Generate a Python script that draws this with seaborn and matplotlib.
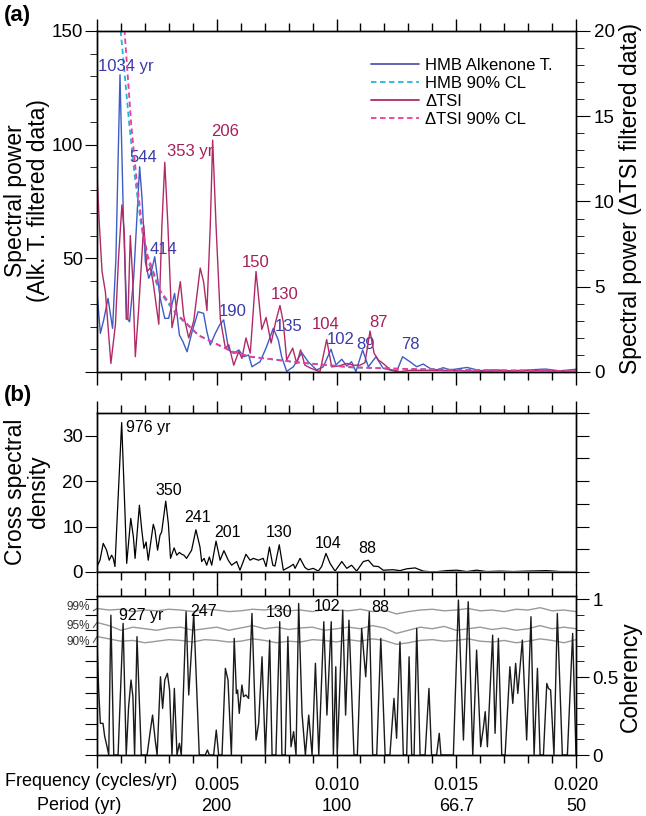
import matplotlib
matplotlib.use("Agg")
import matplotlib.pyplot as plt
import seaborn as sns
from matplotlib.ticker import MultipleLocator, FixedLocator, FixedFormatter
from matplotlib.lines import Line2D

# ---------------- data ----------------
# Panel (a): HMB alkenone temperature spectrum (left axis units)
hmb_f = [0, 0.00014, 0.00028, 0.00046, 0.00065, 0.00079, 0.00096, 0.00111, 0.00125, 0.00136,
         0.00153, 0.00178, 0.00188, 0.00202, 0.00216, 0.00227, 0.00241, 0.00253, 0.00264, 0.00283,
         0.00299, 0.00324, 0.00344, 0.00359, 0.00376, 0.00397, 0.00422, 0.00445, 0.00459, 0.00473,
         0.00494, 0.00512, 0.00529, 0.0055, 0.00571, 0.00592, 0.00613, 0.00633, 0.00647, 0.00665,
         0.00681, 0.00708, 0.00736, 0.00757, 0.00771, 0.00792, 0.0082, 0.00855, 0.00882, 0.00917,
         0.00945, 0.00977, 0.00998, 0.01022, 0.01043, 0.01063, 0.01081, 0.01109, 0.01133, 0.01165,
         0.01195, 0.01223, 0.01251, 0.01276, 0.01307, 0.01335, 0.01362, 0.0139, 0.01418, 0.01446,
         0.01474, 0.01545, 0.01599, 0.01662, 0.01724, 0.01787, 0.01871, 0.01933, 0.02]
hmb_p = [35.3, 17.0, 22.9, 32.4, 19.2, 50.0, 130.7, 64.7, 23.6, 22.1,
         41.2, 90.3, 76.4, 48.5, 41.2, 44.1, 50.7, 41.2, 32.4, 23.6,
         23.6, 34.6, 16.3, 13.3, 8.9, 17.7, 26.5, 25.8, 17.7, 11.9,
         17.0, 20.7, 22.9, 9.7, 8.2, 9.7, 6.7, 7.5, 2.3, 3.5,
         4.5, 11.1, 19.2, 14.1, 6.7, 0.3, 2.3, 8.5, 4.5, 0.9,
         2.3, 10.0, 3.1, 5.6, 2.6, 4.5, 0.2, 9.7, 2.3, 6.7,
         1.6, 0.9, 0.2, 6.7, 4.5, 2.3, 3.5, 1.6, 0.9, 1.9,
         0.9, 2.0, 0.6, 1.0, 0.5, 0.8, 1.3, 0.5, 1.2]

# Panel (a): Delta TSI spectrum (right axis units)
tsi_f = [0, 0.0001, 0.00021, 0.00035, 0.00058, 0.00077, 0.0009, 0.00104, 0.00114, 0.00122,
         0.00129, 0.00139, 0.00149, 0.0016, 0.00174, 0.00195, 0.00209, 0.00223, 0.00234, 0.00258,
         0.00271, 0.00283, 0.00296, 0.00313, 0.0033, 0.00348, 0.00362, 0.00383, 0.00404, 0.00431,
         0.00445, 0.00459, 0.00473, 0.00483, 0.00497, 0.00515, 0.00536, 0.0055, 0.00571, 0.00592,
         0.00605, 0.00622, 0.0064, 0.00664, 0.00688, 0.00706, 0.00727, 0.00747, 0.00764, 0.00778,
         0.00792, 0.00817, 0.00834, 0.0085, 0.00868, 0.00896, 0.00931, 0.00959, 0.0098, 0.01008,
         0.01043, 0.0107, 0.01098, 0.01119, 0.0114, 0.01157, 0.01175, 0.01195, 0.01223, 0.01265,
         0.01307, 0.014, 0.016, 0.018, 0.02]
tsi_p = [11.65, 8.6, 5.9, 4.7, 0.5, 2.8, 6.7, 9.8, 8.2, 3.1,
         3.1, 8.0, 5.5, 0.9, 3.7, 8.6, 5.9, 6.1, 5.3, 2.8,
         8.6, 12.3, 8.6, 2.6, 3.7, 5.3, 3.3, 2.0, 3.0, 6.1,
         5.3, 3.6, 8.6, 13.6, 8.6, 3.1, 1.4, 1.6, 0.4, 1.2,
         0.8, 2.0, 1.1, 5.9, 2.5, 3.2, 1.7, 3.0, 3.9, 2.9,
         0.7, 1.4, 0.5, 1.3, 0.4, 0.2, 0.02, 1.9, 0.3, 0.35,
         0.5, 0.4, 0.4, 0.55, 2.4, 1.1, 0.7, 0.5, 0.15, 0.02,
         0.1, 0.1, 0.05, 0.08, 0.05]

# Panel (a): 90% confidence levels
cl_hmb_f = [0.0009, 0.00099, 0.00135, 0.00157, 0.00184, 0.00209, 0.00263, 0.00334, 0.00425,
            0.00564, 0.0064, 0.00848, 0.01065, 0.01265, 0.01474, 0.02]
cl_hmb_p = [162, 150, 108.7, 86.7, 64.7, 50, 35, 25, 16, 9, 6.7, 4.1, 2.0, 1.4, 1.0, 0.3]
cl_tsi_f = [0.00104, 0.00115, 0.00143, 0.00163, 0.00188, 0.00212, 0.00263, 0.00334, 0.00425,
            0.00564, 0.0064, 0.00848, 0.01065, 0.01265, 0.01474, 0.02]
cl_tsi_p = [20.6, 20.0, 14.5, 11.6, 8.6, 6.8, 4.8, 3.4, 2.15, 1.2, 0.9, 0.55, 0.28, 0.19, 0.13, 0.05]

# Panel (b): cross spectral density
csd_f = [0, 0.000125, 0.00026, 0.0004, 0.00051, 0.00061, 0.00068, 0.00075, 0.00085, 0.00103,
         0.00117, 0.00124, 0.00141, 0.00152, 0.00159, 0.00177, 0.00187, 0.00196, 0.00205, 0.00214,
         0.00235, 0.00242, 0.00253, 0.00263, 0.0027, 0.00287, 0.00298, 0.00307, 0.00322, 0.00333,
         0.00344, 0.00354, 0.00363, 0.00374, 0.00395, 0.00413, 0.0043, 0.00437, 0.00447, 0.00458,
         0.00469, 0.00479, 0.00497, 0.00514, 0.0053, 0.00548, 0.00562, 0.00583, 0.00597, 0.00622,
         0.00639, 0.00653, 0.00674, 0.00694, 0.00706, 0.0072, 0.00734, 0.00743, 0.00761, 0.00778,
         0.00792, 0.00806, 0.0082, 0.00827, 0.00848, 0.00868, 0.00882, 0.00903, 0.00924, 0.00938,
         0.00956, 0.00973, 0.00994, 0.01022, 0.01043, 0.01063, 0.01084, 0.01112, 0.01133, 0.01154,
         0.01175, 0.01195, 0.01237, 0.01265, 0.01293, 0.01328, 0.01362, 0.01404, 0.0146, 0.01502,
         0.01544, 0.01585, 0.01627, 0.01683, 0.01738, 0.01794, 0.01878, 0.01933, 0.02]
csd_v = [1.2, 2.6, 6.3, 4.8, 2.6, 3.7, 3.0, 1.2, 12.8, 32.9,
         12.8, 1.9, 11.8, 7.7, 3.0, 14.7, 9.2, 5.2, 6.6, 2.6,
         10.5, 9.2, 4.8, 8.1, 8.8, 15.6, 10.6, 3.0, 5.3, 3.7,
         4.3, 3.9, 3.7, 3.0, 4.8, 9.3, 5.5, 2.3, 3.0, 1.5,
         3.3, 1.5, 6.8, 2.6, 4.7, 2.6, 1.5, 2.3, 0.4, 3.9,
         2.6, 3.0, 2.6, 3.0, 1.2, 5.5, 1.5, 1.3, 6.0, 0.4,
         0.8, 1.2, 1.7, 0.8, 3.0, 1.0, 0.5, 0.8, 0.2, 1.2,
         4.1, 1.9, 0.2, 2.3, 0.8, 1.5, 0.2, 2.3, 2.6, 1.3,
         1.2, 0.4, 0.5, 0.3, 0.7, 0.9, 0.2, 0.0, 0.3, 0.4,
         0.1, 0.4, 0.1, 0.2, 0.1, 0.2, 0.3, 0.1, 0.1]

# Panel (b, lower): coherency
coh_f = [0, 0.00007, 0.00014, 0.00025, 0.00032, 0.00042, 0.00049, 0.00058, 0.0007, 0.00088,
         0.00109, 0.00122, 0.00132, 0.00142, 0.0015, 0.00157, 0.00167, 0.00185, 0.00209, 0.00223,
         0.00232, 0.00243, 0.00251, 0.00265, 0.00274, 0.00283, 0.00294, 0.00303, 0.00313, 0.00323,
         0.00334, 0.00344, 0.00352, 0.00372, 0.00383, 0.00404, 0.00427, 0.00452, 0.00461, 0.00469,
         0.00487, 0.00498, 0.00508, 0.00522, 0.00536, 0.00547, 0.00561, 0.00573, 0.00582, 0.00587,
         0.00594, 0.00605, 0.00612, 0.00622, 0.00633, 0.00647, 0.00664, 0.00675, 0.00689, 0.00703,
         0.00721, 0.00731, 0.00747, 0.00763, 0.00772, 0.00786, 0.00797, 0.0081, 0.00821, 0.00831,
         0.00842, 0.00856, 0.0087, 0.00884, 0.00898, 0.00912, 0.00926, 0.00947, 0.0096, 0.00978,
         0.00987, 0.00997, 0.01003, 0.01026, 0.01038, 0.01052, 0.01073, 0.01087, 0.01105, 0.01122,
         0.01137, 0.01151, 0.01168, 0.01185, 0.01203, 0.01223, 0.0124, 0.01251, 0.01265, 0.01279,
         0.01293, 0.01303, 0.01314, 0.01324, 0.01335, 0.01349, 0.0137, 0.01386, 0.01397, 0.01418,
         0.01429, 0.01436, 0.01488, 0.01509, 0.0153, 0.0155, 0.01569, 0.01585, 0.01602, 0.01613,
         0.01621, 0.0163, 0.01652, 0.01662, 0.01676, 0.0169, 0.01704, 0.01724, 0.01736, 0.01748,
         0.01757, 0.01776, 0.01794, 0.01812, 0.01825, 0.01839, 0.0185, 0.01864, 0.01878, 0.01885,
         0.01894, 0.01908, 0.01922, 0.01943, 0.01964, 0.01986, 0.02]
coh_v = [0.73, 0.417, 0.203, 0.203, 0.12, 0.053, 0, 0.897, 0, 0,
         0.844, 0, 0.31, 0.481, 0.374, 0, 0.759, 0, 0, 0.16,
         0.256, 0.096, 0, 0.502, 0.299, 0.481, 0.524, 0.417, 0, 0.427,
         0, 0.075, 0, 0.919, 0.385, 0.908, 0, 0, 0.032, 0,
         0, 0.16, 0, 0, 0.556, 0.481, 0, 0.748, 0.395, 0.417,
         0.267, 0.449, 0.374, 0.385, 0.363, 0.908, 0.096, 0.203, 0.63, 0,
         0.737, 0, 0, 0.855, 0, 0, 0.759, 0.053, 0.15, 0,
         0.972, 0.267, 0, 0.256, 0, 0.588, 0, 0.855, 0.256, 0.855,
         0, 0.566, 0, 0.929, 0.256, 0.865, 0, 0, 0.812, 0.502,
         0.919, 0, 0, 0.748, 0, 0, 0.363, 0.107, 0.726, 0,
         0, 0.63, 0, 0, 0.812, 0, 0, 0.427, 0, 0,
         0.139, 0, 0, 0.994, 0.096, 0.983, 0, 0.673, 0.053, 0.171,
         0.278, 0.053, 0.769, 0.139, 0.748, 0, 0, 0.566, 0.331, 0.588,
         0.395, 0.737, 0.096, 0.887, 0, 0.556, 0, 0, 0.459, 0.427,
         0.417, 0, 0.908, 0, 0, 0.78, 0]

# Coherency confidence levels
conf_f = [0, 0.0005, 0.001, 0.0015, 0.002, 0.0025, 0.003, 0.0035, 0.004, 0.0045,
          0.005, 0.0055, 0.006, 0.0065, 0.007, 0.0075, 0.008, 0.0085, 0.009, 0.0095,
          0.01, 0.0105, 0.011, 0.0115, 0.012, 0.0125, 0.013, 0.0135, 0.014, 0.0145,
          0.015, 0.0155, 0.016, 0.0165, 0.017, 0.0175, 0.018, 0.0185, 0.019, 0.0195, 0.02]
conf99 = [0.94, 0.93, 0.935, 0.92, 0.93, 0.925, 0.935, 0.93, 0.92, 0.935,
          0.93, 0.92, 0.925, 0.935, 0.93, 0.94, 0.925, 0.93, 0.92, 0.935,
          0.93, 0.925, 0.935, 0.92, 0.93, 0.905, 0.92, 0.93, 0.935, 0.925,
          0.93, 0.94, 0.925, 0.93, 0.92, 0.935, 0.93, 0.945, 0.925, 0.93, 0.92]
conf95 = [0.85, 0.83, 0.80, 0.82, 0.81, 0.80, 0.815, 0.82, 0.80, 0.81,
          0.82, 0.80, 0.815, 0.83, 0.81, 0.82, 0.805, 0.815, 0.82, 0.80,
          0.81, 0.82, 0.81, 0.83, 0.815, 0.78, 0.80, 0.82, 0.81, 0.825,
          0.80, 0.81, 0.82, 0.805, 0.815, 0.80, 0.81, 0.83, 0.81, 0.82, 0.81]
conf90 = [0.76, 0.745, 0.73, 0.735, 0.72, 0.73, 0.74, 0.735, 0.725, 0.74,
          0.735, 0.725, 0.73, 0.745, 0.735, 0.72, 0.73, 0.725, 0.74, 0.735,
          0.725, 0.74, 0.73, 0.745, 0.735, 0.71, 0.72, 0.735, 0.74, 0.73,
          0.735, 0.745, 0.73, 0.725, 0.735, 0.72, 0.73, 0.745, 0.735, 0.72, 0.74]

# tick labels
freq_ticks = [0, 0.005, 0.010, 0.015, 0.020]
freq_labels = ["", "0.005", "0.010", "0.015", "0.020"]
period_labels = ["", "200", "100", "66.7", "50"]

# peak annotations: (label, freq, value)
hmb_peaks = [("1034 yr", 0.00122, 134.3), ("544", 0.00192, 94.3), ("414", 0.00278, 53.7),
             ("190", 0.00568, 26.5), ("135", 0.00802, 19.9), ("102", 0.01017, 14.4),
             ("89", 0.01121, 11.9), ("78", 0.01307, 11.9)]
tsi_peaks = [("353 yr", 0.0039, 96.9), ("206", 0.00534, 106), ("150", 0.00662, 48),
             ("130", 0.00785, 33.9), ("104", 0.00953, 21.1), ("87", 0.01175, 21.7)]
csd_peaks = [("976 yr", 0.00213, 31.8), ("350", 0.00299, 18), ("241", 0.00418, 12.1),
             ("201", 0.00543, 8.8), ("130", 0.00762, 8.8), ("104", 0.00965, 6.35),
             ("88", 0.01129, 5.25)]
coh_peaks = [("927 yr", 0.00185, 0.894), ("247", 0.00447, 0.923), ("130", 0.00762, 0.913),
             ("102", 0.0096, 0.955), ("88", 0.01182, 0.946)]

# ---------------- style ----------------
sns.set_style("ticks")
plt.rcParams['font.family'] = ['Liberation Sans', 'DejaVu Sans']
plt.rcParams.update({'axes.edgecolor': 'black', 'xtick.color': 'black', 'ytick.color': 'black',
                     'text.color': 'black', 'axes.labelcolor': 'black', 'axes.linewidth': 1.0})

BLUE = '#3d5cc4'; BLUE_T = '#3a3aa8'
MAG = '#b02a68'; MAG_T = '#a61f5c'
CYAN = '#22b5df'; PINK = '#ee3a9c'
GRAY = '#999999'

fig = plt.figure(figsize=(6.46, 8.16), dpi=100)
L, W = 97 / 646, 479 / 646
def box(top, bottom):
    return [L, 1 - bottom / 816, W, (bottom - top) / 816]

axA = fig.add_axes(box(31, 372))
axB = fig.add_axes(box(413, 572))
axC = fig.add_axes(box(596, 755))

DASH = (0, (3, 2))
# ---- panel (a)
sns.lineplot(x=hmb_f, y=hmb_p, ax=axA, color=BLUE, lw=1.0, estimator=None, sort=False)
sns.lineplot(x=cl_hmb_f, y=cl_hmb_p, ax=axA, color=CYAN, lw=1.3, ls=DASH, estimator=None, sort=False)
axA2 = axA.twinx()
sns.lineplot(x=tsi_f, y=tsi_p, ax=axA2, color=MAG, lw=1.0, estimator=None, sort=False)
sns.lineplot(x=cl_tsi_f, y=cl_tsi_p, ax=axA2, color=PINK, lw=1.3, ls=DASH, estimator=None, sort=False)
axA.set_ylim(0, 150); axA2.set_ylim(0, 20)

for lab, f, v in hmb_peaks:
    axA.text(f, v, lab, color=BLUE_T, fontsize=12, ha='center', va='center')
for lab, f, v in tsi_peaks:
    axA.text(f, v, lab, color=MAG_T, fontsize=12, ha='center', va='center')

handles = [Line2D([], [], color='#5358b0', lw=1.3),
           Line2D([], [], color=CYAN, lw=1.3, ls=DASH),
           Line2D([], [], color=MAG, lw=1.3),
           Line2D([], [], color=PINK, lw=1.3, ls=DASH)]
axA2.legend(handles, ["HMB Alkenone T.", "HMB 90% CL", "ΔTSI", "ΔTSI 90% CL"],
            loc='upper left', bbox_to_anchor=(0.572, 0.92), frameon=False, fontsize=12,
            borderpad=0, borderaxespad=0, handlelength=2.9, handletextpad=0.35,
            labelspacing=0.17)

# ---- panel (b) cross spectral density
sns.lineplot(x=csd_f, y=csd_v, ax=axB, color='black', lw=0.9, estimator=None, sort=False)
axB.set_ylim(0, 35)
axB.spines['bottom'].set_color('#888888')
axB.spines['bottom'].set_linewidth(1.3)
for lab, f, v in csd_peaks:
    axB.text(f, v, lab, fontsize=11.5, ha='center', va='center')
axB2 = axB.twinx(); axB2.set_ylim(0, 35)

# ---- panel (c) coherency
for c in (conf99, conf95, conf90):
    sns.lineplot(x=conf_f, y=c, ax=axC, color=GRAY, lw=1.0, estimator=None, sort=False)
sns.lineplot(x=coh_f, y=coh_v, ax=axC, color='#1a1a1a', lw=1.0, estimator=None, sort=False)
axC.set_ylim(0, 1.02)
for lab, f, v in coh_peaks:
    axC.text(f, v, lab, fontsize=11.5, ha='center', va='center')
axC2 = axC.twinx(); axC2.set_ylim(0, 1.02)

for lab, c, py in (("99%", conf99, 607), ("95%", conf95, 626), ("90%", conf90, 642)):
    axC.annotate(lab, xy=(0, c[0]), xycoords='data', xytext=(90, 816 - py),
                 textcoords='figure pixels', ha='right', va='center', fontsize=8.5,
                 color='#333333', annotation_clip=False,
                 arrowprops=dict(arrowstyle='-', color='#555555', lw=0.8,
                                 shrinkA=0, shrinkB=0, relpos=(1, 0)))

# ---- axes / ticks
for ax in (axA, axB, axC):
    ax.set_xlim(0, 0.02)
    ax.xaxis.set_major_locator(FixedLocator(freq_ticks))
    ax.xaxis.set_minor_locator(MultipleLocator(0.001))
    ax.tick_params(axis='x', which='both', top=True, bottom=True, direction='out',
                   labelbottom=False, width=1.0)
    ax.tick_params(axis='x', which='major', length=9)
    ax.tick_params(axis='x', which='minor', length=6)
    ax.set_xlabel(''); ax.set_ylabel('')

axC.tick_params(axis='x', which='both', labelbottom=True, labelsize=13, pad=7)
axC.xaxis.set_major_formatter(FixedFormatter([f"{a}\n{b}" if a else "" for a, b in zip(freq_labels, period_labels)]))
for t in axC.get_xticklabels():
    t.set_linespacing(1.3)

# left axis of (a)
axA.yaxis.set_major_locator(FixedLocator([0, 50, 100, 150]))
axA.yaxis.set_major_formatter(FixedFormatter(["", "50", "100", "150"]))
axA.yaxis.set_minor_locator(MultipleLocator(10))
axA.tick_params(axis='y', which='major', length=9, labelsize=13.5, pad=1)
axA.tick_params(axis='y', which='minor', length=5)
axA2.yaxis.set_major_locator(MultipleLocator(5))
axA2.yaxis.set_minor_locator(MultipleLocator(1))
axA2.tick_params(axis='y', which='major', length=10, labelsize=13.5, pad=3)
axA2.tick_params(axis='y', which='minor', length=6)
axA2.set_ylabel('')

axB.yaxis.set_major_locator(MultipleLocator(10))
axB.tick_params(axis='y', which='major', length=9, labelsize=13.5, pad=1)
axB2.yaxis.set_major_locator(MultipleLocator(5))
axB2.tick_params(axis='y', which='major', length=9, labelright=False)

axC.yaxis.set_major_locator(MultipleLocator(0.1))
axC.tick_params(axis='y', which='major', length=9, labelleft=False)
axC2.yaxis.set_major_locator(FixedLocator([0, 0.5, 1]))
axC2.yaxis.set_major_formatter(FixedFormatter(["0", "0.5", "1"]))
axC2.yaxis.set_minor_locator(MultipleLocator(0.1))
axC2.tick_params(axis='y', which='major', length=9, labelsize=13.5, pad=3)
axC2.tick_params(axis='y', which='minor', length=6)

# ---- text labels
fig.text(27 / 646, 1 - 201 / 816, "Spectral power\n(Alk. T. filtered data)", rotation=90,
         ha='center', va='center', fontsize=16.5, linespacing=1.05)
fig.text(630 / 646, 1 - 198 / 816, "Spectral power (ΔTSI filtered data)", rotation=90,
         ha='center', va='center', fontsize=16.5)
fig.text(27 / 646, 1 - 492 / 816, "Cross spectral\ndensity", rotation=90,
         ha='center', va='center', fontsize=16.5, linespacing=1.05)
fig.text(630 / 646, 1 - 677 / 816, "Coherency", rotation=90,
         ha='center', va='center', fontsize=16.5)
fig.text(4 / 646, 1 - 15 / 816, "(a)", fontweight='bold', fontsize=16, ha='left', va='center')
fig.text(4 / 646, 1 - 395 / 816, "(b)", fontweight='bold', fontsize=16, ha='left', va='center')
fig.text(177 / 646, 1 - 782 / 816, "Frequency (cycles/yr)", fontsize=13, ha='right', va='center')
fig.text(121 / 646, 1 - 805 / 816, "Period (yr)", fontsize=13, ha='right', va='center')

fig.savefig("out.png", dpi=100)
